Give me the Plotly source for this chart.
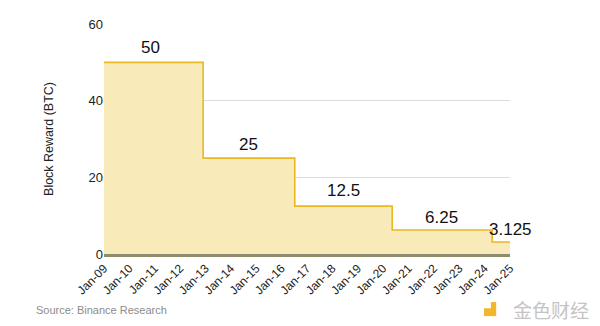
import plotly.graph_objects as go

halving_dates = ["2009-01-01", "2012-11-28", "2016-07-09", "2020-05-11", "2024-04-20", "2025-01-01"]
block_reward = [50, 25, 12.5, 6.25, 3.125, 3.125]

label_dates = ["2010-11-01", "2014-09-15", "2018-06-15", "2022-04-15", "2025-01-01"]
label_text = ["50", "25", "12.5", "6.25", "3.125"]
label_y = [54, 28.5, 16.5, 9.4, 6.3]

tick_dates = [f"{y}-01-01" for y in range(2009, 2026)]
tick_text = [f"Jan-{str(y)[2:]}" for y in range(2009, 2026)]

fig = go.Figure()
fig.add_trace(go.Scatter(
    x=halving_dates, y=block_reward, mode="lines", line_shape="hv",
    line=dict(color="#E9B825", width=1.6), fill="tozeroy",
    fillcolor="rgba(248,234,181,0.95)", hoverinfo="skip", showlegend=False,
))

for d, yv, t in zip(label_dates, label_y, label_text):
    fig.add_annotation(x=d, y=yv, text=t, showarrow=False,
                       font=dict(family="Liberation Sans, Arial", size=17, color="#111"),
                       xanchor="center", yanchor="middle")

fig.add_annotation(xref="paper", yref="paper", x=-0.172, y=-0.243, xanchor="left", yanchor="middle",
                   text="Source: Binance Research", showarrow=False,
                   font=dict(family="Liberation Sans, Arial", size=11, color="#8c8c8c"))
fig.add_annotation(xref="paper", yref="paper", x=1.2, y=-0.243, xanchor="right", yanchor="middle",
                   text="金色财经", showarrow=False,
                   font=dict(family="Noto Sans CJK SC", size=19, color="#c4c4c4"))
fig.add_shape(type="rect", xref="paper", yref="paper", x0=0.936, x1=0.966, y0=-0.27, y1=-0.209,
              fillcolor="#F2B62B", line=dict(width=0))
fig.add_shape(type="rect", xref="paper", yref="paper", x0=0.936, x1=0.953, y0=-0.236, y1=-0.209,
              fillcolor="white", line=dict(width=0))

fig.update_layout(
    width=600, height=326, margin=dict(l=104, r=90, t=24, b=72),
    paper_bgcolor="white", plot_bgcolor="white",
    font=dict(family="Liberation Sans, Arial", color="#222"),
    xaxis=dict(type="date", range=["2009-01-01", "2025-01-01"], tickmode="array",
               tickvals=tick_dates, ticktext=tick_text, tickangle=-45,
               tickfont=dict(size=12, color="#222"), showgrid=False,
               showline=True, linecolor="#8f8c6e", linewidth=2.5, ticks="", zeroline=False),
    yaxis=dict(range=[0, 60], tickvals=[0, 20, 40, 60], tickfont=dict(size=13, color="#222"),
               gridcolor="#dcdcdc", gridwidth=1, zeroline=False, showline=False,
               title=dict(text="Block Reward (BTC)", font=dict(size=12.5, color="#222"), standoff=32)),
)

fig.write_html("out.html")
